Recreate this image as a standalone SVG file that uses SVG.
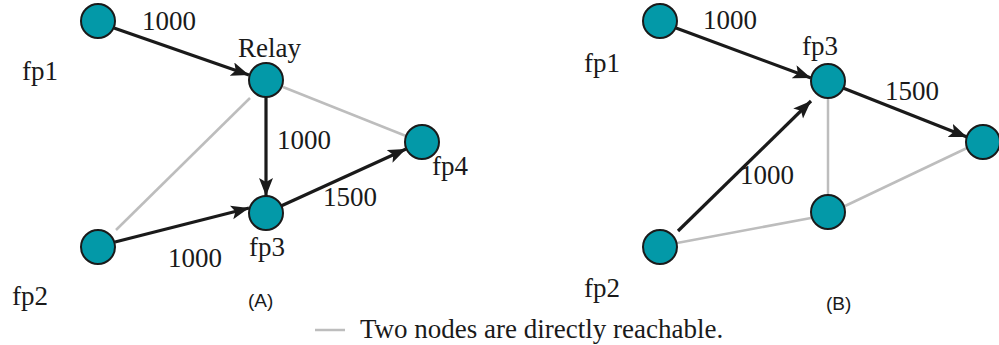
<svg xmlns="http://www.w3.org/2000/svg" width="999" height="345" viewBox="0 0 999 345">
<defs>
<marker id="ah" markerUnits="userSpaceOnUse" markerWidth="20" markerHeight="16" refX="18" refY="7" orient="auto">
<path d="M0,0 L18,7 L0,14 L4,7 Z" fill="#1a1a1a"/>
</marker>
</defs>
<rect width="999" height="345" fill="#fff"/>
<g id="connectors" fill="none">
<g stroke="#bdbdbd" stroke-width="2.5">
<line x1="116" y1="230" x2="250" y2="98"/>
<line x1="283" y1="87" x2="406" y2="136"/>
<line x1="828" y1="98" x2="828" y2="195"/>
<line x1="677" y1="243" x2="811" y2="218"/>
<line x1="845" y1="206" x2="967" y2="148"/>
<line x1="315" y1="330" x2="345" y2="330"/>
</g>
<g stroke="#1a1a1a" stroke-width="3.2" marker-end="url(#ah)">
<line x1="114" y1="28" x2="249" y2="75"/>
<line x1="266" y1="97" x2="266" y2="196"/>
<line x1="281" y1="206" x2="406" y2="149"/>
<line x1="115" y1="242" x2="249" y2="208"/>
<line x1="676" y1="28" x2="811" y2="78"/>
<line x1="843" y1="88" x2="967" y2="137"/>
<line x1="678" y1="231" x2="811" y2="101"/>
</g>
</g>
<g fill="#0399a8" stroke="#1a1a1a" stroke-width="2">
<g id="A-fp1"><circle cx="98" cy="21" r="17"/></g>
<g id="A-relay"><circle cx="266" cy="80" r="17"/></g>
<g id="A-fp3"><circle cx="266" cy="213" r="17"/></g>
<g id="A-fp4"><circle cx="422" cy="142" r="17"/></g>
<g id="A-fp2"><circle cx="98" cy="247" r="17"/></g>
<g id="B-fp1"><circle cx="660" cy="21" r="17"/></g>
<g id="B-fp3"><circle cx="828" cy="81" r="17"/></g>
<g id="B-fp4"><circle cx="983" cy="142" r="17"/></g>
<g id="B-fp2"><circle cx="660" cy="247" r="17"/></g>
<g id="B-mid"><circle cx="828" cy="212" r="17"/></g>
</g>
<g id="labels" fill="#1a1a1a" font-size="27">
<text x="22" y="80" font-family="Liberation Serif">fp1</text>
<text x="238" y="57" font-family="Liberation Serif">Relay</text>
<text x="249" y="256" font-family="Liberation Serif">fp3</text>
<text x="432" y="175" font-family="Liberation Serif">fp4</text>
<text x="12" y="305" font-family="Liberation Serif">fp2</text>
<text x="142" y="30" font-family="Liberation Serif">1000</text>
<text x="277" y="149" font-family="Liberation Serif">1000</text>
<text x="323" y="206" font-family="Liberation Serif">1500</text>
<text x="168" y="267" font-family="Liberation Serif">1000</text>
<text x="248" y="307" font-family="Liberation Sans" font-size="19">(A)</text>
<text x="584" y="72" font-family="Liberation Serif">fp1</text>
<text x="802" y="55" font-family="Liberation Serif">fp3</text>
<text x="584" y="297" font-family="Liberation Serif">fp2</text>
<text x="703" y="29" font-family="Liberation Serif">1000</text>
<text x="885" y="100" font-family="Liberation Serif">1500</text>
<text x="740" y="184" font-family="Liberation Serif">1000</text>
<text x="826" y="310" font-family="Liberation Sans" font-size="19">(B)</text>
<text x="360" y="338" font-family="Liberation Serif">Two nodes are directly reachable.</text>
</g>
</svg>
